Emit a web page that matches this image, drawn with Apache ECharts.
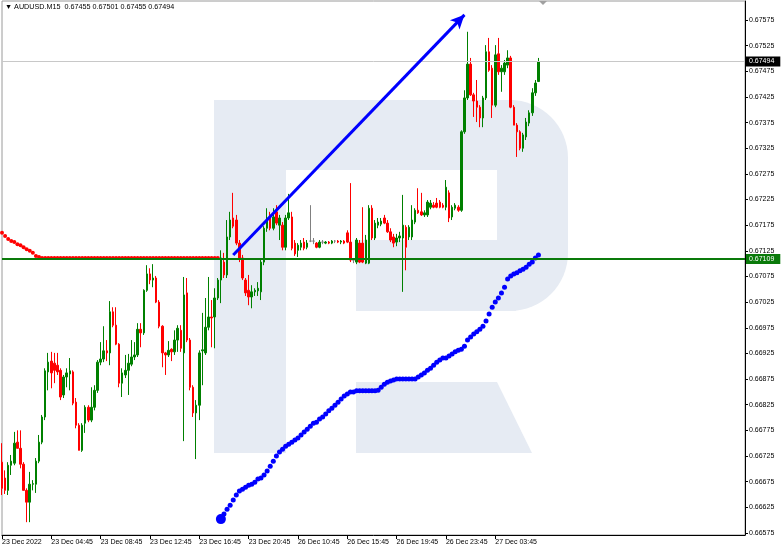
<!DOCTYPE html>
<html><head><meta charset="utf-8">
<script src="https://cdn.jsdelivr.net/npm/echarts@6/dist/echarts.min.js"></script>
<style>html,body{margin:0;padding:0;background:#fff}#c{width:782px;height:552px}</style>
</head><body><div id="c"></div>
<script>
const symbolName = 'AUDUSD.M15';
const tickLabels = ['23 Dec 2022','23 Dec 04:45','23 Dec 08:45','23 Dec 12:45','23 Dec 16:45','23 Dec 20:45','26 Dec 10:45','26 Dec 15:45','26 Dec 19:45','26 Dec 23:45','27 Dec 03:45'];
const priceTicks = [0.66575,0.66625,0.66675,0.66725,0.66775,0.66825,0.66875,0.66925,0.66975,0.67025,0.67075,0.67125,0.67175,0.67225,0.67275,0.67325,0.67375,0.67425,0.67475,0.67525,0.67575];

const opens = [
0.66713,0.66682,0.66658,0.66707,0.66711,0.66752,0.66740,0.66709,0.66658,0.66635,
0.66670,0.66670,0.66715,0.66752,0.66801,0.66889,0.66910,0.66906,0.66902,0.66892,
0.66844,0.66879,0.66885,0.66889,0.66830,0.66785,0.66736,0.66789,0.66820,0.66795,
0.66820,0.66853,0.66908,0.66914,0.66930,0.66926,0.67006,0.66980,0.66943,0.66867,
0.66883,0.66892,0.66904,0.66918,0.66922,0.66972,0.66965,0.67048,0.67080,0.67068,
0.67072,0.67025,0.66978,0.66926,0.66922,0.66933,0.66928,0.66951,0.66970,0.66926,
0.67043,0.66951,0.66859,0.66809,0.66824,0.66930,0.66926,0.66976,0.66996,0.66996,
0.67033,0.67068,0.67103,0.67078,0.67152,0.67189,0.67185,0.67140,0.67111,0.67068,
0.67048,0.67035,0.67045,0.67047,0.67045,0.67103,0.67169,0.67189,0.67169,0.67201,
0.67175,0.67175,0.67132,0.67189,0.67191,0.67140,0.67126,0.67132,0.67142,0.67132,
0.67144,0.67144,0.67140,0.67132,0.67142,0.67140,0.67142,0.67140,0.67144,0.67144,
0.67142,0.67144,0.67160,0.67142,0.67107,0.67103,0.67140,0.67140,0.67101,0.67101,
0.67208,0.67150,0.67175,0.67177,0.67189,0.67179,0.67162,0.67152,0.67142,0.67150,
0.67150,0.67171,0.67152,0.67152,0.67181,0.67204,0.67201,0.67195,0.67195,0.67210,
0.67214,0.67218,0.67220,0.67214,0.67210,0.67238,0.67191,0.67208,0.67210,0.67204,
0.67357,0.67423,0.67489,0.67429,0.67417,0.67405,0.67384,0.67423,0.67513,0.67481,
0.67409,0.67509,0.67474,0.67474,0.67487,0.67501,0.67405,0.67370,0.67357,0.67325,
0.67347,0.67374,0.67394,0.67433,0.67455];
const highs = [
0.66750,0.66697,0.66713,0.66727,0.66772,0.66775,0.66775,0.66713,0.66662,0.66694,
0.66678,0.66721,0.66766,0.66805,0.66896,0.66926,0.66928,0.66926,0.66926,0.66896,
0.66883,0.66896,0.66916,0.66892,0.66838,0.66789,0.66789,0.66824,0.66824,0.66859,
0.66863,0.66912,0.66947,0.66978,0.66951,0.67027,0.67015,0.67015,0.66945,0.66896,
0.66922,0.66924,0.66951,0.66947,0.66984,0.66984,0.67050,0.67097,0.67091,0.67099,
0.67076,0.67029,0.66980,0.66928,0.66949,0.66935,0.66970,0.66980,0.66980,0.67074,
0.67072,0.66955,0.66863,0.66834,0.66931,0.67004,0.67033,0.67074,0.67029,0.67052,
0.67072,0.67126,0.67121,0.67185,0.67201,0.67238,0.67195,0.67146,0.67117,0.67072,
0.67078,0.67058,0.67052,0.67064,0.67111,0.67173,0.67208,0.67201,0.67208,0.67214,
0.67195,0.67181,0.67195,0.67236,0.67201,0.67146,0.67140,0.67146,0.67150,0.67146,
0.67214,0.67150,0.67142,0.67146,0.67146,0.67144,0.67144,0.67146,0.67146,0.67146,
0.67146,0.67146,0.67165,0.67257,0.67111,0.67150,0.67146,0.67210,0.67156,0.67214,
0.67214,0.67185,0.67189,0.67189,0.67195,0.67185,0.67169,0.67158,0.67158,0.67162,
0.67234,0.67175,0.67175,0.67214,0.67208,0.67247,0.67238,0.67204,0.67224,0.67224,
0.67220,0.67228,0.67224,0.67218,0.67263,0.67243,0.67214,0.67218,0.67214,0.67360,
0.67438,0.67552,0.67501,0.67433,0.67458,0.67409,0.67427,0.67526,0.67540,0.67487,
0.67526,0.67540,0.67487,0.67497,0.67516,0.67505,0.67409,0.67374,0.67360,0.67355,
0.67384,0.67399,0.67442,0.67458,0.67501];
const lows = [
0.66649,0.66651,0.66649,0.66688,0.66707,0.66740,0.66701,0.66658,0.66596,0.66596,
0.66658,0.66653,0.66711,0.66748,0.66795,0.66853,0.66857,0.66867,0.66883,0.66834,
0.66838,0.66859,0.66853,0.66824,0.66779,0.66736,0.66733,0.66770,0.66791,0.66791,
0.66814,0.66848,0.66902,0.66908,0.66910,0.66902,0.66976,0.66941,0.66859,0.66840,
0.66877,0.66844,0.66900,0.66912,0.66918,0.66937,0.66961,0.67045,0.67060,0.67054,
0.67023,0.66974,0.66898,0.66883,0.66918,0.66910,0.66922,0.66928,0.66928,0.66754,
0.66947,0.66853,0.66801,0.66719,0.66795,0.66863,0.66922,0.66970,0.66937,0.66935,
0.67029,0.67023,0.67072,0.67072,0.67146,0.67169,0.67136,0.67103,0.67068,0.67037,
0.67019,0.67013,0.67037,0.67037,0.67029,0.67097,0.67162,0.67165,0.67165,0.67175,
0.67146,0.67126,0.67126,0.67185,0.67126,0.67115,0.67113,0.67126,0.67126,0.67128,
0.67142,0.67138,0.67130,0.67130,0.67138,0.67138,0.67138,0.67138,0.67140,0.67140,
0.67138,0.67138,0.67140,0.67103,0.67101,0.67099,0.67101,0.67101,0.67099,0.67099,
0.67146,0.67146,0.67169,0.67173,0.67177,0.67160,0.67142,0.67132,0.67134,0.67142,
0.67045,0.67087,0.67146,0.67146,0.67177,0.67197,0.67193,0.67191,0.67191,0.67206,
0.67208,0.67208,0.67208,0.67208,0.67204,0.67181,0.67185,0.67204,0.67201,0.67201,
0.67353,0.67419,0.67427,0.67386,0.67376,0.67366,0.67366,0.67419,0.67474,0.67384,
0.67405,0.67468,0.67435,0.67468,0.67481,0.67403,0.67370,0.67308,0.67321,0.67318,
0.67341,0.67368,0.67388,0.67427,0.67455];
const closes = [
0.66662,0.66658,0.66707,0.66715,0.66750,0.66740,0.66709,0.66658,0.66635,0.66670,
0.66671,0.66715,0.66752,0.66801,0.66891,0.66908,0.66887,0.66892,0.66889,0.66840,
0.66879,0.66887,0.66891,0.66828,0.66785,0.66736,0.66785,0.66820,0.66795,0.66820,
0.66853,0.66908,0.66914,0.66930,0.66926,0.67006,0.66980,0.66943,0.66867,0.66887,
0.66892,0.66906,0.66918,0.66922,0.66972,0.66965,0.67048,0.67080,0.67068,0.67072,
0.67025,0.66978,0.66926,0.66922,0.66931,0.66928,0.66951,0.66974,0.66935,0.67039,
0.66951,0.66859,0.66809,0.66824,0.66926,0.66932,0.66976,0.66996,0.66994,0.67033,
0.67068,0.67111,0.67078,0.67152,0.67185,0.67173,0.67140,0.67111,0.67072,0.67043,
0.67035,0.67045,0.67048,0.67052,0.67103,0.67169,0.67189,0.67169,0.67191,0.67179,
0.67189,0.67132,0.67189,0.67199,0.67130,0.67119,0.67136,0.67140,0.67130,0.67140,
0.67144,0.67144,0.67132,0.67142,0.67142,0.67142,0.67140,0.67144,0.67144,0.67142,
0.67144,0.67140,0.67142,0.67107,0.67107,0.67146,0.67103,0.67103,0.67146,0.67208,
0.67150,0.67179,0.67181,0.67183,0.67179,0.67162,0.67146,0.67140,0.67150,0.67154,
0.67175,0.67132,0.67171,0.67185,0.67204,0.67199,0.67195,0.67199,0.67220,0.67218,
0.67210,0.67210,0.67210,0.67210,0.67249,0.67189,0.67210,0.67214,0.67204,0.67357,
0.67423,0.67489,0.67429,0.67417,0.67405,0.67384,0.67423,0.67513,0.67477,0.67409,
0.67507,0.67474,0.67481,0.67491,0.67501,0.67405,0.67370,0.67357,0.67325,0.67351,
0.67376,0.67394,0.67433,0.67452,0.67494];

const redDots = [
0.67160,0.67154,0.67148,0.67144,0.67142,0.67138,0.67136,0.67132,0.67128,0.67125,
0.67121,0.67115,0.67113,0.67111,0.67111,0.67111,0.67111,0.67111,0.67111,0.67111,
0.67111,0.67111,0.67111,0.67111,0.67111,0.67111,0.67111,0.67111,0.67111,0.67111,
0.67111,0.67111,0.67111,0.67111,0.67111,0.67111,0.67111,0.67111,0.67111,0.67111,
0.67111,0.67111,0.67111,0.67111,0.67111,0.67111,0.67111,0.67111,0.67111,0.67111,
0.67111,0.67111,0.67111,0.67111,0.67111,0.67111,0.67111,0.67111,0.67111,0.67111,
0.67111,0.67111,0.67111,0.67111,0.67111,0.67111,0.67111,0.67111,0.67111,0.67111,
0.67111];
const blueStart = 71;
const blueDots = [
0.66602,0.66612,0.66621,0.66629,0.66639,0.66649,0.66657,0.66660,0.66664,0.66668,
0.66670,0.66674,0.66680,0.66682,0.66688,0.66696,0.66705,0.66715,0.66725,0.66733,
0.66738,0.66744,0.66748,0.66752,0.66756,0.66760,0.66766,0.66772,0.66777,0.66783,
0.66789,0.66791,0.66797,0.66801,0.66807,0.66813,0.66818,0.66824,0.66830,0.66836,
0.66842,0.66846,0.66850,0.66850,0.66852,0.66852,0.66852,0.66852,0.66852,0.66852,
0.66852,0.66853,0.66859,0.66865,0.66869,0.66871,0.66873,0.66875,0.66875,0.66875,
0.66875,0.66875,0.66875,0.66875,0.66879,0.66883,0.66887,0.66892,0.66896,0.66902,
0.66908,0.66912,0.66916,0.66916,0.66920,0.66924,0.66928,0.66931,0.66933,0.66939,
0.66951,0.66957,0.66963,0.66967,0.66972,0.66978,0.66988,0.67002,0.67015,0.67025,
0.67033,0.67043,0.67054,0.67070,0.67076,0.67080,0.67082,0.67086,0.67089,0.67093,
0.67099,0.67103,0.67111,0.67117];

const levelLine = 0.67109;
const lastPrice = closes[closes.length - 1];
const arrowStart = [75, 0.67117];
const arrowEnd = [150, 0.67585];
const totalSlots = 242;

const categories = [];
for (let i = 0; i < totalSlots; i++) {
  categories.push(i % 16 === 0 && tickLabels[i / 16] ? tickLabels[i / 16] : 'b' + i);
}
const isLabelSlot = (i) => i % 16 === 0 && i / 16 < tickLabels.length;
const candleData = opens.map((o, i) => [o, closes[i], lows[i], highs[i]]);
const n = opens.length - 1;
const header = '\u25BC ' + symbolName + '  ' + opens[n].toFixed(5) + ' ' + highs[n].toFixed(5) + ' ' + lows[n].toFixed(5) + ' ' + closes[n].toFixed(5);

const FONT = 'Liberation Sans, Arial, sans-serif';
const LOGO = '#e6ebf3';
const boxLabel = (txt, bg) => ({show: true, position: 'end', distance: 1, formatter: txt, fontSize: 7, fontFamily: FONT,
                                 color: '#fff', backgroundColor: bg, padding: [2, 6, 1, 3]});
const chart = echarts.init(document.getElementById('c'), null, {renderer: 'canvas'});
chart.setOption({
  animation: false,
  backgroundColor: '#ffffff',
  grid: {left: 2, right: 37, top: 1, bottom: 17, containLabel: false, outerBoundsMode: 'none',
         show: true, borderColor: '#9a9a9a', borderWidth: 1, backgroundColor: 'transparent'},
  graphic: {elements: [
    {type: 'rect', z: -1, silent: true, shape: {x: 214, y: 100, width: 72, height: 353}, style: {fill: LOGO}},
    {type: 'rect', z: -1, silent: true, shape: {x: 214, y: 100, width: 300, height: 70}, style: {fill: LOGO}},
    {type: 'rect', z: -1, silent: true, shape: {x: 497, y: 100, width: 71, height: 211, r: [0, 58, 58, 0]}, style: {fill: LOGO}},
    {type: 'rect', z: -1, silent: true, shape: {x: 356, y: 240, width: 160, height: 71}, style: {fill: LOGO}},
    {type: 'polygon', z: -1, silent: true, shape: {points: [[356, 382], [497, 382], [532, 453], [356, 453]]}, style: {fill: LOGO}},
    {type: 'polygon', z: 10, silent: true, shape: {points: [[539, 1], [547, 1], [543, 5]]}, style: {fill: '#a0a0a0'}},
    {type: 'text', z: 10, silent: true, left: 5, top: 4, style: {text: header, font: '7.2px ' + FONT, fill: '#000'}}
  ]},
  xAxis: {
    type: 'category', data: categories, boundaryGap: false,
    axisLine: {lineStyle: {color: '#000', width: 1}},
    axisTick: {interval: (i) => isLabelSlot(i), length: 4, lineStyle: {color: '#000'}},
    axisLabel: {interval: (i) => isLabelSlot(i), align: 'left', margin: 4, fontSize: 7, fontFamily: FONT, color: '#000',
                formatter: (v) => (tickLabels.indexOf(v) >= 0 ? v : '')},
    splitLine: {show: false}
  },
  yAxis: {
    type: 'value', position: 'right', min: 0.66571, max: 0.67612, scale: true,
    axisLine: {show: true, lineStyle: {color: '#000', width: 1}},
    axisTick: {show: true, customValues: priceTicks, length: 3, lineStyle: {color: '#000'}},
    axisLabel: {customValues: priceTicks, formatter: (v) => v.toFixed(5), fontSize: 7, fontFamily: FONT, color: '#000', margin: 4},
    splitLine: {show: false}
  },
  series: [
    {
      type: 'candlestick', data: candleData, barWidth: 2, z: 3,
      itemStyle: {color: '#008000', color0: '#ff0000', borderColor: '#008000', borderColor0: '#ff0000',
                  borderColorDoji: '#808080', borderWidth: 1}
    },
    {
      type: 'scatter', z: 4, symbol: 'circle', symbolSize: 4,
      itemStyle: {color: '#ff0000', opacity: 1},
      data: redDots.map((v, i) => [i, v])
    },
    {
      type: 'scatter', z: 4, symbol: 'circle',
      symbolSize: (val, p) => (p.dataIndex === 0 ? 10 : 5),
      itemStyle: {color: '#0000ff', opacity: 1},
      data: blueDots.map((v, k) => [blueStart + k, v]),
      markLine: {
        silent: true, animation: false, symbol: ['none', 'none'], precision: 5,
        data: [
          {yAxis: lastPrice, lineStyle: {color: '#c8c8c8', width: 1, type: 'solid'}, label: boxLabel(lastPrice.toFixed(5), '#000')},
          {yAxis: levelLine, lineStyle: {color: '#0a7a0a', width: 2, type: 'solid'}, label: boxLabel(levelLine.toFixed(5), '#0a7a0a')},
          [{coord: arrowStart, symbol: 'none', lineStyle: {color: '#0000ff', width: 3, type: 'solid'}, label: {show: false}},
           {coord: arrowEnd, symbol: 'arrow', symbolSize: [10, 14]}]
        ]
      }
    }
  ]
});
</script>
</body></html>
